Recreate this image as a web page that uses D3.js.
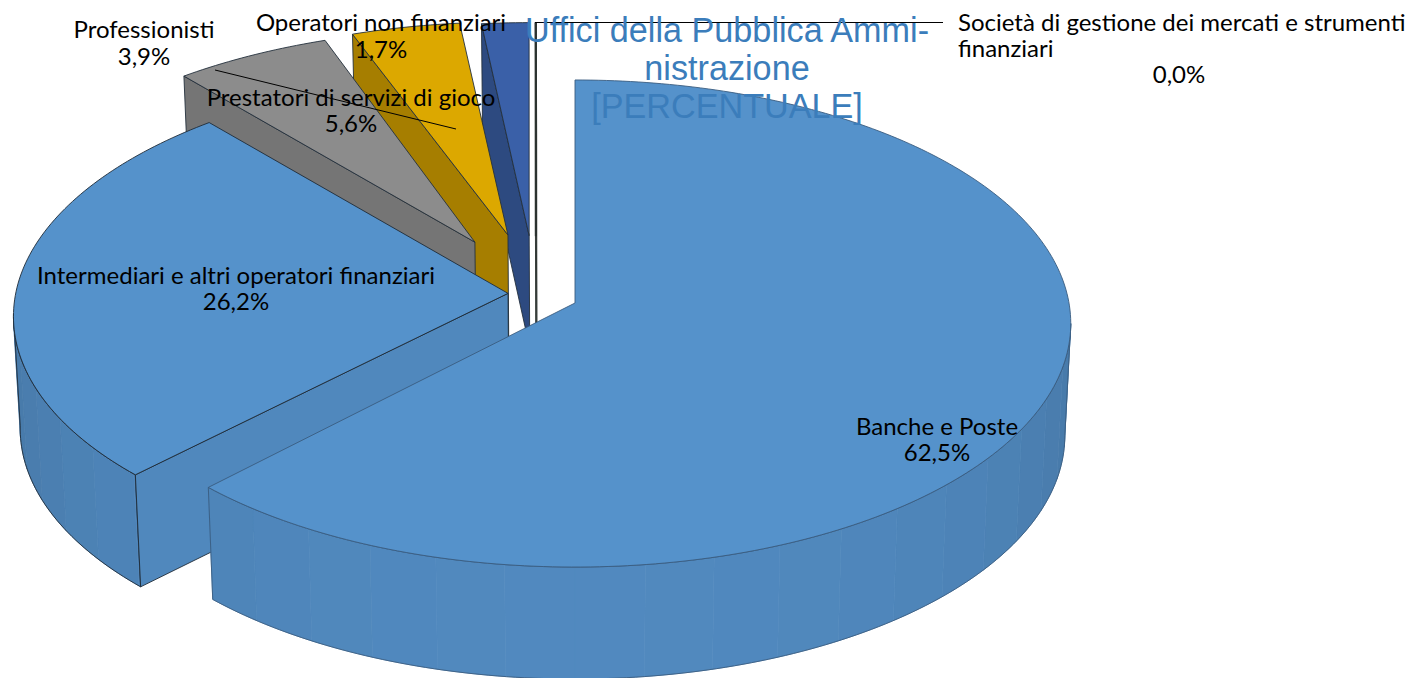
<!DOCTYPE html>
<html>
<head>
<meta charset="utf-8">
<script src="https://d3js.org/d3.v7.min.js"></script>
<style>
  html, body { margin: 0; padding: 0; background: #fff; overflow: hidden; }
  svg { display: block; }
  .lbl { font-family: Lato, "Noto Sans", sans-serif; font-size: 24px; fill: #000; text-anchor: middle; }
  .ttl { font-family: "Liberation Sans", Arial, sans-serif; font-size: 34.2px; fill: #3b7dbb; text-anchor: middle; }
</style>
</head>
<body>
<div id="chart"></div>
<script>
const categories = [
  "Banche e Poste",
  "Intermediari e altri operatori finanziari",
  "Prestatori di servizi di gioco",
  "Professionisti",
  "Operatori non finanziari",
  "Uffici della Pubblica Amministrazione",
  "Società di gestione dei mercati e strumenti finanziari"
]
const values = [62.5, 26.2, 5.6, 3.9, 1.7, 0, 0]

const topColors  = ["#5592cb", "#5592cb", "#8c8c8c", "#dca800", "#3a60a8", "#ffffff", "#ffffff"]
const sideColors = ["#5088bd", "#5088bd", "#757575", "#a67e00", "#2d4a80", "#ffffff", "#ffffff"]
const edgeColors = ["#3a5c80", "#1f2b38", "#24303c", "#24303c", "#24303c", "#2c3330", "#2c3330"]

// how far each slice is pulled out of the pie, on the pie's own plane
const pullU = [0, -0.136, -0.212, -0.152, -0.103, -0.089, -0.087]
const pullV = [0, -0.04, -0.257, -0.288, -0.285, -0.285, -0.285]
const apexU = [0, -0.136, -0.207, -0.139, -0.095, -0.082, -0.08]

// small corrections of the cuts, in degrees, the picture is not a true projection
const startTweak = [0, -0.5, 0, 0, 0, 0, 0]
const endTweak   = [-1, -0.5, 0, 0, 0, 0, 0]

const width = 1407, height = 678
const persp = 0.0842   // foreshortening of the far side
const depth = 112

const x = d3.scaleLinear().domain([-1, 1]).range([575 - 494, 575 + 494])
const y = d3.scaleLinear().domain([-1, 1]).range([303 - 241.8, 303 + 241.8])

const project = (u, v, low) => {
  const s = 1 / (1 - persp * v)
  const px = x(u * s), py = y(v * s)
  if (!low) return [px, py]
  return [x(0) + (px - x(0)) * 0.988, py + depth]
}

const svg = d3.select("#chart").append("svg")
  .attr("width", width)
  .attr("height", height)

const pie = d3.pie().sort(null).value(d => d)
const arcs = pie(values)
const line = d3.line()

// rim shading, darkest at the sides of the pie and lighter at the front
const rimShade = d3.scaleLinear().domain([0, 1]).range([0.88, 1.01])
const bandStep = Math.PI / 24
const rad = d => d * Math.PI / 180

// paint from the back of the pie to the front
d3.range(arcs.length - 1, -1, -1).forEach(i => {
  const a = arcs[i]
  const startA = a.startAngle + rad(startTweak[i])
  const endA = a.endAngle + rad(endTweak[i])
  const g = svg.append("g").attr("class", "slice")
  const rim = (t, low) => project(Math.sin(t) + pullU[i], -Math.cos(t) + pullV[i], low)
  const apex = low => project(apexU[i], pullV[i], low)
  const sample = (t0, t1) => {
    const n = Math.max(1, Math.ceil((t1 - t0) / (Math.PI / 180)))
    return d3.range(n + 1).map(k => t0 + (t1 - t0) * k / n)
  }

  // front part of the outer wall, in broad flat bands
  const from = Math.max(startA, Math.PI * 0.527)
  const to = Math.min(endA, Math.PI * 1.473)
  if (to > from) {
    const c = d3.color(sideColors[i])
    const first = Math.floor(from / bandStep)
    const last = Math.ceil(to / bandStep)
    d3.range(first, last).forEach(b => {
      const t0 = Math.max(from, b * bandStep)
      const t1 = Math.min(to, (b + 1) * bandStep)
      const ts = sample(t0, t1)
      const f = rimShade(Math.max(0, -Math.cos((t0 + t1) / 2)))
      const col = d3.rgb(c.r * f, c.g * f, c.b * f)
      g.append("path")
        .attr("d", line(ts.map(t => rim(t)).concat(ts.slice().reverse().map(t => rim(t, true)))) + "Z")
        .attr("fill", col)
        .attr("stroke", col)
        .attr("stroke-width", 0.7)
    })
    const ts = sample(from, to)
    g.append("path")
      .attr("d", line(ts.map(t => rim(t)).concat(ts.slice().reverse().map(t => rim(t, true)))) + "Z")
      .attr("fill", "none")
      .attr("stroke", edgeColors[i])
      .attr("stroke-width", 0.9)
  }

  // the cut face that looks towards the viewer
  if (startA >= Math.PI) {
    g.append("path")
      .attr("d", line([apex(), rim(startA), rim(startA, true), apex(true)]) + "Z")
      .attr("fill", sideColors[i])
      .attr("stroke", edgeColors[i])
      .attr("stroke-width", 0.9)
  }

  // top face
  const tops = sample(startA, endA).map(t => rim(t))
  g.append("path")
    .attr("d", line([apex()].concat(tops)) + "Z")
    .attr("fill", topColors[i])
    .attr("stroke", edgeColors[i])
    .attr("stroke-width", a.value === 0 ? 1.2 : 0.9)
    .attr("stroke-linejoin", "round")
})

const fmt = v => v.toFixed(1).replace(".", ",") + "%"

// leader lines
const leaders = [
  { from: [215, 70], to: [456, 129] },
  { from: [535, 22.5], to: [943, 22.5] }
]
svg.selectAll("line.leader")
  .data(leaders)
  .enter().append("line")
  .attr("class", "leader")
  .attr("x1", d => d.from[0]).attr("y1", d => d.from[1])
  .attr("x2", d => d.to[0]).attr("y2", d => d.to[1])
  .attr("stroke", "#000")
  .attr("stroke-width", 1)

// data labels, name and percentage in one text
const labels = [
  { i: 0, cx: 937, y0: 435, dy: 26 },
  { i: 1, cx: 236, y0: 284, dy: 26 },
  { i: 2, cx: 351, y0: 106, dy: 26 },
  { i: 3, cx: 144, y0: 38, dy: 27 },
  { i: 4, cx: 381, y0: 31, dy: 27 }
]
labels.forEach(l => {
  const t = svg.append("text").attr("class", "lbl").attr("y", l.y0)
  t.append("tspan").attr("x", l.cx).text(categories[l.i])
  t.append("tspan").attr("x", l.cx).attr("dy", l.dy).text(fmt(values[l.i]))
})

// the long label on the right wraps and is left aligned
const soc = svg.append("text").attr("class", "lbl").attr("y", 31)
soc.append("tspan").attr("x", 958).style("text-anchor", "start").text("Società di gestione dei mercati e strumenti")
soc.append("tspan").attr("x", 958).attr("dy", 26).style("text-anchor", "start").text("finanziari")
soc.append("tspan").attr("x", 1179).attr("dy", 26).text(fmt(values[6]))

// this one was left as a placeholder in the source chart
const titleLines = ["Uffici della Pubblica Ammi-", "nistrazione", "[PERCENTUALE]"]
svg.append("text")
  .attr("class", "ttl")
  .attr("y", 42)
  .selectAll("tspan")
  .data(titleLines)
  .enter().append("tspan")
  .attr("x", 727)
  .attr("dy", (d, k) => k ? 38 : 0)
  .text(d => d)
</script>
</body>
</html>
